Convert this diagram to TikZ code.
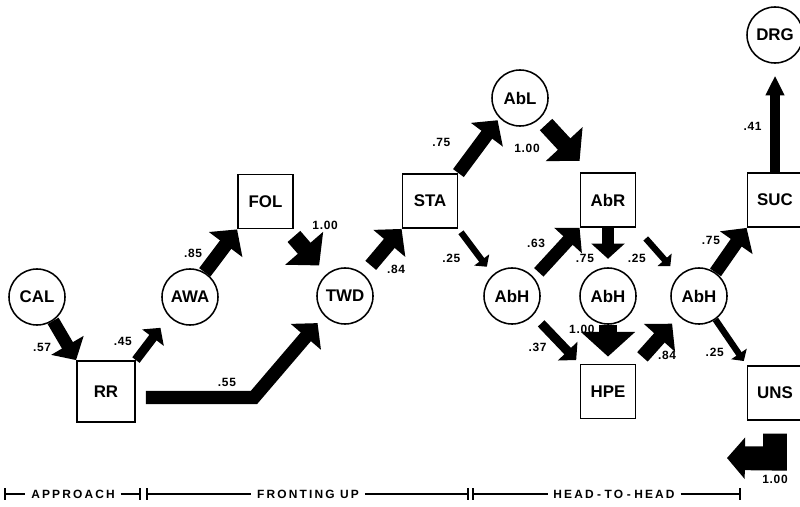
\documentclass[tikz,border=0pt]{standalone}
\usepackage{fontspec}
\setmainfont{Liberation Sans}
\newfontfamily\numfont[LetterSpace=6]{Liberation Sans}
\newfontfamily\phasefont[LetterSpace=18]{Liberation Sans}
\usetikzlibrary{positioning,arrows.meta}

\begin{document}
\begin{tikzpicture}[x=0.025cm, y=-0.025cm,
  every node/.style={font=\bfseries},
  state/.style={circle, draw, line width=1.1pt, minimum size=1.4cm, inner sep=0pt,
                font=\bfseries\fontsize{12}{14}\selectfont},
  act/.style={rectangle, draw, line width=1.3pt, minimum width=1.375cm, minimum height=1.35cm,
              inner sep=0pt, font=\bfseries\fontsize{12}{14}\selectfont},
  flow/.style={line width=#1, -{Triangle[length=0pt 1.35, width=0pt 2.9]}},
  lbl/.style={font=\numfont\bfseries\fontsize{8.5}{10}\selectfont, inner sep=0pt},
  phase/.style={font=\phasefont\bfseries\fontsize{8.5}{10}\selectfont, inner xsep=4pt},
  bar/.style={line width=1pt}
]
  \useasboundingbox (0,0) rectangle (800,506);

  \node[state] (CAL) at (37,297) {CAL};
  \node[state] (AWA) at (190,297) {AWA};
  \node[act, minimum width=1.45cm, minimum height=1.525cm] (RR) at (106,391.5) {RR};
  \node[act] (FOL) at (265.5,201.5) {FOL};
  \node[state] (TWD) at (345,296) {TWD};
  \node[act] (STA) at (430,201) {STA};
  \node[state] (AbL) at (520,98) {AbL};
  \node[act] (AbR) at (608,200) {AbR};
  \node[state] (AbH1) at (512,296) {AbH};
  \node[state] (AbH2) at (608,296) {AbH};
  \node[state] (AbH3) at (699,296) {AbH};
  \node[act] (HPE) at (608,391.5) {HPE};
  \node[act] (SUC) at (775,200) {SUC};
  \node[state] (DRG) at (775,35) {DRG};
  \node[act] (UNS) at (775,393) {UNS};
  \coordinate (back) at (727,458);

  \draw[flow=9pt] (CAL.-56) -- node[lbl, pos=.68, left=8pt] (p57) {.57} (RR.north west);
  \draw[flow=6.5pt, shorten >=10pt] (RR.north east) -- node[lbl, pos=.44, left=10pt] (p45) {.45} (AWA.-137);
  \draw[flow=10pt] (AWA.59) -- node[lbl, pos=.44, left=7pt] (p85) {.85} (FOL.south west);
  \draw[flow=12pt, shorten >=8pt] ([yshift=-5pt]FOL.south east) -- node[lbl, pos=.05, above right=0pt and 6pt] (p100a) {1.00} (TWD.130);
  \draw[flow=10pt, shorten <=8pt] (TWD.50) -- node[lbl, pos=.1, right=9pt] (p84a) {.84} (STA.south west);
  \draw[flow=9.5pt, shorten >=7pt] ([shift={(10,6)}]RR.east) -- node[lbl, pos=.75, above=3pt] (p55) {.55} ++(108,0) -- (TWD.-137);
  \draw[flow=9.5pt, shorten >=2pt] (STA.north east) -- node[lbl, pos=.55, left=17pt] (p75a) {.75} (AbL.-136);
  \draw[flow=12pt, shorten <=6pt] (AbL.-45) -- node[lbl, pos=.7, left=14pt] (p100b) {1.00} ([yshift=8pt]AbR.north west);
  \draw[flow=4.5pt, shorten <=3pt, shorten >=7pt] (STA.south east) -- node[lbl, pos=.64, left=12pt] (p25a) {.25} (AbH1.132);
  \draw[flow=9pt, shorten <=5pt] (AbH1.40) -- node[lbl, pos=.69, left=10pt] (p63) {.63} (AbR.south west);
  \draw[flow=8pt, shorten >=6pt] (AbR.south) -- node[lbl, pos=.78, left=6pt] (p75b) {.75} (AbH2.north);
  \draw[flow=4.5pt, shorten <=10pt, shorten >=9pt] (AbR.south east) -- node[lbl, pos=.63, left=10pt] (p25b) {.25} (AbH3.135);
  \draw[flow=6.5pt, shorten <=8pt, shorten >=3.5pt] (AbH1.-42) -- node[lbl, pos=.66, left=9pt] (p37) {.37} (HPE.north west);
  \draw[flow=13pt, shorten >=5pt] (AbH2.south) -- node[lbl, pos=.12, left=3pt] (p100c) {1.00} (HPE.north);
  \draw[flow=10pt, shorten <=6.4pt, shorten >=7pt] (HPE.north east) -- node[lbl, pos=.18, right=5pt] (p84b) {.84} (AbH3.-135);
  \draw[flow=9.5pt] (AbH3.55) -- node[lbl, pos=.72, left=8pt] (p75c) {.75} (SUC.south west);
  \draw[flow=7pt, -{Triangle[length=0pt 2, width=0pt 1.8]}, shorten >=8.5pt] (SUC.north) -- node[lbl, pos=.42, left=6pt] (p41) {.41} (DRG.south);
  \draw[flow=4.5pt, shorten >=3.5pt] (AbH3.-55) -- node[lbl, pos=.73, left=8pt] (p25c) {.25} (UNS.north west);
  \draw[flow=17pt, -{Triangle[length=0pt .75, width=0pt 1.7]}] ([yshift=-9pt]UNS.south) -- ++(0,25) node[lbl, below=3pt] (p100d) {1.00} -- (back);

  \node[phase] (appr) at (73,494) {APPROACH};
  \node[phase] (front) at (308,494) {FRONTING UP};
  \node[phase] (h2h) at (614,494) {HEAD\kern2.5pt-\kern2.5pt TO\kern2.5pt-\kern2.5pt HEAD};
  \foreach \x/\n in {5/a0,140/a1,147/f0,468/f1,473/h0,740/h1}{
    \coordinate (\n) at (\x,494);
    \draw[bar] (\x,488) -- (\x,500);
  }
  \draw[bar] (a0) -- (appr.west) (appr.east) -- (a1);
  \draw[bar] (f0) -- (front.west) (front.east) -- (f1);
  \draw[bar] (h0) -- (h2h.west) (h2h.east) -- (h1);
\end{tikzpicture}
\end{document}
